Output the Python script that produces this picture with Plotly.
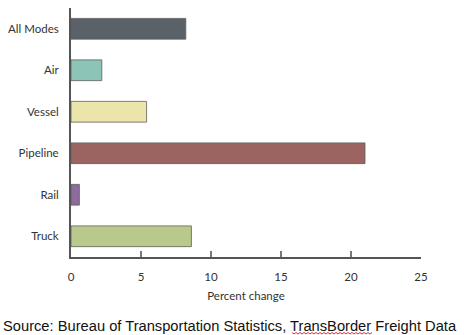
import plotly.graph_objects as go

modes = ["All Modes", "Air", "Vessel", "Pipeline", "Rail", "Truck"]
pct_change = [8.2, 2.2, 5.4, 21.0, 0.6, 8.6]
bar_colors = ["#5b6169", "#8cc4b7", "#ece5ab", "#9b6461", "#8d6b9d", "#b9c98b"]
x_ticks = [0, 5, 10, 15, 20, 25]
source_note = "Source: Bureau of Transportation Statistics, TransBorder Freight Data"

# plot area in pixels (used to place the note below the axes)
L, R, T, B = 71, 43, 8, 78
W, H = 464, 335
pw, ph = W - L - R, H - T - B

fig = go.Figure(
    go.Bar(
        x=pct_change,
        y=modes,
        orientation="h",
        marker=dict(color=bar_colors, line=dict(color="#5e5e5e", width=0.8)),
        width=0.5,
    )
)

fig.update_layout(
    width=W,
    height=H,
    margin=dict(l=L, r=R, t=T, b=B, autoexpand=False),
    paper_bgcolor="white",
    plot_bgcolor="white",
    showlegend=False,
    font=dict(family="Lato, Noto Sans, sans-serif", size=11.5, color="#333333"),
)

fig.update_xaxes(
    range=[0, 25],
    tickvals=x_ticks,
    showgrid=False,
    zeroline=False,
    showline=True,
    linecolor="#555555",
    linewidth=2,
    ticks="inside",
    ticklen=6,
    tickwidth=1.5,
    tickcolor="#777777",
    ticklabelstandoff=8,
    automargin=False,
    tickfont=dict(size=11.5, color="#333333"),
    title=dict(text="Percent change", font=dict(size=11.5, color="#333333"), standoff=10),
)

fig.update_yaxes(
    categoryorder="array",
    categoryarray=modes[::-1],
    showgrid=False,
    zeroline=False,
    showline=True,
    linecolor="#555555",
    linewidth=2,
    ticks="",
    ticklabelstandoff=8,
    automargin=False,
    tickfont=dict(size=11.5, color="#333333"),
)

fig.add_annotation(
    text=source_note,
    xref="paper", yref="paper",
    x=-(L - 1) / pw, y=-(326 - (H - B)) / ph,
    xanchor="left", yanchor="middle",
    showarrow=False,
    font=dict(family="Liberation Sans, Arial, sans-serif", size=14.7, color="#111111"),
)

# red spell-check squiggle under "TransBorder"
x0, x1, yq = 292, 373, 333
zig = []
step = 2
xs = list(range(x0, x1 + 1, step))
for i, xv in enumerate(xs):
    yv = yq + (1 if i % 2 else -0.5)
    zig.append(f"{'M' if i == 0 else 'L'}{(xv - L) / pw:.5f},{-(yv - (H - B)) / ph:.5f}")
fig.add_shape(
    type="path",
    xref="paper", yref="paper",
    path=" ".join(zig),
    line=dict(color="#e03030", width=1),
)

fig.write_html("out.html")
